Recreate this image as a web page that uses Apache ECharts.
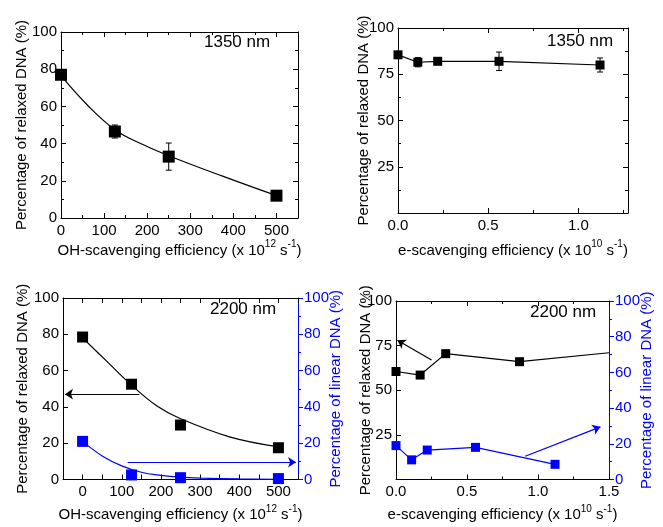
<!DOCTYPE html>
<html>
<head>
<meta charset="utf-8">
<script src="https://cdn.jsdelivr.net/npm/echarts@6.0.0/dist/echarts.min.js"></script>
<style>
  html, body { margin: 0; padding: 0; background: #fff; }
  #chart { width: 663px; height: 527px; }
</style>
</head>
<body>
<div id="chart"></div>
<script>
// ---- data ----
// top left: 1350 nm, OH scavenging
const ohX = [0, 125, 250, 500];
const relaxedOH1350 = [77, 46.5, 33, 12];
const errOH1350 = [0, 3.5, 7.3, 0];
const fitOH1350X = [0, 60, 125, 190, 250, 375, 500];
const fitOH1350 = [76.5, 61, 47.5, 39.5, 33.5, 22.5, 12];

// top right: 1350 nm, e scavenging
const eX1350 = [0, 0.11, 0.22, 0.56, 1.12];
const relaxedE1350 = [85.5, 81.5, 82, 82, 80];
const errE1350 = [0, 2.5, 1, 5, 3.8];

// bottom left: 2200 nm, OH scavenging
const relaxedOH2200 = [78.5, 52.5, 30, 17.5];
const linearOH2200 = [21, 2.5, 1, 0.5];
const fitOH2200X = [0, 60, 125, 190, 250, 375, 500];
const fitRelaxedOH2200 = [78, 65.5, 52, 40.5, 33.5, 23.5, 18];
const fitLinearOH2200X = [0, 50, 100, 150, 200, 250, 300, 400, 500];
const fitLinearOH2200 = [21, 13, 7.5, 4, 2.3, 1.3, 0.8, 0.3, 0.1];
const arrowRelaxedOH = [[145, 47], [-45, 47]];
const arrowLinearOH = [[115, 9.5], [545, 9.5]];

// bottom right: 2200 nm, e scavenging
const eXRelaxed2200 = [0, 0.17, 0.35, 0.87, 1.5];
const relaxedE2200 = [60.5, 58.5, 70.5, 66, 71];
const eXLinear2200 = [0, 0.11, 0.22, 0.56, 1.12];
const linearE2200 = [19, 11, 16.5, 18, 8.5];
const arrowRelaxedE = [[0.25, 67], [0.01, 78]];
const arrowLinearE = [[0.91, 13], [1.44, 29.5]];

// ---- chart ----
const FONT = '"Liberation Sans", Arial, sans-serif';
const BLUE = '#0000ff';
const chart = echarts.init(document.getElementById('chart'));

const pts = (xs, ys) => xs.map((x, i) => [x, ys[i]]);
const errData = (xs, ys, es) => xs.map((x, i) => [x, ys[i] - es[i], ys[i] + es[i]]);

const supRich = { sup: { fontSize: 10, verticalAlign: 'top', fontFamily: FONT } };

function xAxes(gi, min, max, interval, minor, fmt, name, gap) {
  const common = {
    gridIndex: gi, type: 'value', min: min, max: max, interval: interval,
    splitLine: { show: false },
    axisLine: { onZero: false, lineStyle: { color: '#000', width: 1 } },
    axisTick: { inside: true, length: 5, lineStyle: { color: '#000' } },
    minorTick: { show: minor > 0, splitNumber: minor || 5, length: 3, lineStyle: { color: '#000' } }
  };
  return [
    Object.assign({}, common, {
      position: 'bottom', name: name, nameLocation: 'middle', nameGap: gap, nameMoveOverlap: false,
      nameTextStyle: { fontSize: 15, lineHeight: 22, fontFamily: FONT, color: '#000', rich: supRich },
      axisLabel: { formatter: fmt, color: '#000', fontSize: 15, fontFamily: FONT, margin: 5 }
    }),
    Object.assign({}, common, { position: 'top', axisLabel: { show: false } })
  ];
}

function yAxis(gi, pos, min, max, interval, minor, fmt, name, gap, color, outward) {
  return {
    gridIndex: gi, type: 'value', position: pos, min: min, max: max, interval: interval,
    name: name, nameLocation: 'middle', nameGap: gap, nameMoveOverlap: false,
    nameTextStyle: { fontSize: 15, fontFamily: FONT, color: color },
    splitLine: { show: false },
    axisLine: { onZero: false, lineStyle: { color: color, width: 1 } },
    axisTick: { inside: !outward, length: 5, lineStyle: { color: color } },
    minorTick: { show: minor > 0, splitNumber: minor || 5, length: 3, lineStyle: { color: color } },
    axisLabel: { show: fmt !== null, formatter: fmt || undefined, color: color, fontSize: 15,
      fontFamily: FONT, margin: outward ? 6 : 4 }
  };
}

const intFmt = v => String(v);
const hundredFmt = v => (v % 100 === 0 && v >= 0 && v <= 500 ? String(v) : '');
const halfFmt = v => (Math.abs(v * 2 - Math.round(v * 2)) < 1e-6 ? v.toFixed(1) : '');
const noZero = v => (v === 0 ? '' : String(v));

const ohName = 'OH-scavenging efficiency (x 10{sup|12} s{sup|-1})';
const eName = 'e-scavenging efficiency (x 10{sup|10} s{sup|-1})';
const relName = 'Percentage of relaxed DNA (%)';
const linName = 'Percentage of linear DNA (%)';

function errSeries(xi, yi, data) {
  return {
    type: 'custom', xAxisIndex: xi, yAxisIndex: yi, data: data, z: 1, silent: true,
    renderItem: function (params, api) {
      const lo = api.coord([api.value(0), api.value(1)]);
      const hi = api.coord([api.value(0), api.value(2)]);
      const st = { stroke: '#000', lineWidth: 1 };
      return {
        type: 'group', children: [
          { type: 'line', shape: { x1: lo[0], y1: lo[1], x2: hi[0], y2: hi[1] }, style: st },
          { type: 'line', shape: { x1: lo[0] - 3, y1: lo[1], x2: lo[0] + 3, y2: lo[1] }, style: st },
          { type: 'line', shape: { x1: hi[0] - 3, y1: hi[1], x2: hi[0] + 3, y2: hi[1] }, style: st }
        ]
      };
    }
  };
}

function arrow(pair, color) {
  return {
    silent: true, symbol: ['none', 'arrow'], symbolSize: 8,
    label: { show: false }, emphasis: { disabled: true },
    lineStyle: { color: color, type: 'solid', width: 1.2 },
    data: [[{ coord: pair[0] }, { coord: pair[1] }]]
  };
}

const titleStyle = { fontSize: 17, fontWeight: 'normal', fontFamily: FONT, color: '#000' };

const relaxedE2200Data = pts(eXRelaxed2200, relaxedE2200).map((p, i, a) =>
  i === a.length - 1 ? { value: p, symbol: 'none' } : p);

chart.setOption({
  animation: false,
  backgroundColor: '#fff',
  title: [
    { text: '1350 nm', left: 204, top: 34, padding: 0, textStyle: titleStyle },
    { text: '1350 nm', left: 547, top: 33, padding: 0, textStyle: titleStyle },
    { text: '2200 nm', left: 210, top: 301, padding: 0, textStyle: titleStyle },
    { text: '2200 nm', left: 530, top: 304, padding: 0, textStyle: titleStyle }
  ],
  grid: [
    { left: 61, top: 32, width: 237, height: 186 },
    { left: 398, top: 28, width: 230, height: 185 },
    { left: 63, top: 298, width: 235, height: 186 },
    { left: 396, top: 301, width: 213, height: 183 }
  ],
  xAxis: [].concat(
    xAxes(0, 0, 550, 100, 2, intFmt, ohName, 21.5),
    xAxes(1, 0, 1.275, 0.5, 2, halfFmt, eName, 26.5),
    xAxes(2, -50, 550, 50, 0, hundredFmt, ohName, 24.5),
    xAxes(3, 0, 1.5, 0.5, 2, halfFmt, eName, 24.5)
  ),
  yAxis: [
    yAxis(0, 'left', 0, 100, 20, 2, intFmt, relName, 31.5, '#000'),
    yAxis(0, 'right', 0, 100, 20, 2, null, '', 0, '#000'),
    yAxis(1, 'left', 0, 100, 25, 2, noZero, relName, 26.5, '#000'),
    yAxis(1, 'right', 0, 100, 25, 2, null, '', 0, '#000'),
    yAxis(2, 'left', 0, 100, 20, 0, intFmt, relName, 32.5, '#000'),
    yAxis(2, 'right', 0, 100, 20, 2, intFmt, linName, 30.5, BLUE, true),
    yAxis(3, 'left', 0, 100, 25, 0, noZero, relName, 22.5, '#000'),
    yAxis(3, 'right', 0, 100, 20, 2, intFmt, linName, 30.5, BLUE, true)
  ],
  series: [
    // top left
    { type: 'line', xAxisIndex: 0, yAxisIndex: 0, data: pts(fitOH1350X, fitOH1350), smooth: 0.4,
      showSymbol: false, lineStyle: { color: '#000', width: 1.2 }, z: 2 },
    errSeries(0, 0, errData(ohX, relaxedOH1350, errOH1350)),
    { type: 'scatter', xAxisIndex: 0, yAxisIndex: 0, data: pts(ohX, relaxedOH1350), symbol: 'rect',
      symbolSize: 12, itemStyle: { color: '#000', opacity: 1 }, z: 3 },
    // top right
    errSeries(2, 2, errData(eX1350, relaxedE1350, errE1350)),
    { type: 'line', xAxisIndex: 2, yAxisIndex: 2, data: pts(eX1350, relaxedE1350), symbol: 'rect',
      symbolSize: 9, lineStyle: { color: '#000', width: 1.2 }, itemStyle: { color: '#000' }, z: 3 },
    // bottom left
    { type: 'line', xAxisIndex: 4, yAxisIndex: 4, data: pts(fitOH2200X, fitRelaxedOH2200), smooth: 0.4,
      showSymbol: false, lineStyle: { color: '#000', width: 1.2 }, z: 2 },
    { type: 'scatter', xAxisIndex: 4, yAxisIndex: 4, data: pts(ohX, relaxedOH2200), symbol: 'rect',
      symbolSize: 11, itemStyle: { color: '#000', opacity: 1 }, z: 3, markLine: arrow(arrowRelaxedOH, '#000') },
    { type: 'line', xAxisIndex: 4, yAxisIndex: 5, data: pts(fitLinearOH2200X, fitLinearOH2200), smooth: 0.4,
      showSymbol: false, lineStyle: { color: BLUE, width: 1.2 }, z: 2 },
    { type: 'scatter', xAxisIndex: 4, yAxisIndex: 5, data: pts(ohX, linearOH2200), symbol: 'rect',
      symbolSize: 11, itemStyle: { color: BLUE, opacity: 1 }, z: 3, markLine: arrow(arrowLinearOH, BLUE) },
    // bottom right
    { type: 'line', xAxisIndex: 6, yAxisIndex: 6, data: relaxedE2200Data, symbol: 'rect', symbolSize: 9,
      lineStyle: { color: '#000', width: 1.2 }, itemStyle: { color: '#000' }, z: 3,
      markLine: arrow(arrowRelaxedE, '#000') },
    { type: 'line', xAxisIndex: 6, yAxisIndex: 7, data: pts(eXLinear2200, linearE2200), symbol: 'rect',
      symbolSize: 9, lineStyle: { color: BLUE, width: 1.2 }, itemStyle: { color: BLUE }, z: 3,
      markLine: arrow(arrowLinearE, BLUE) }
  ]
});
</script>
</body>
</html>
